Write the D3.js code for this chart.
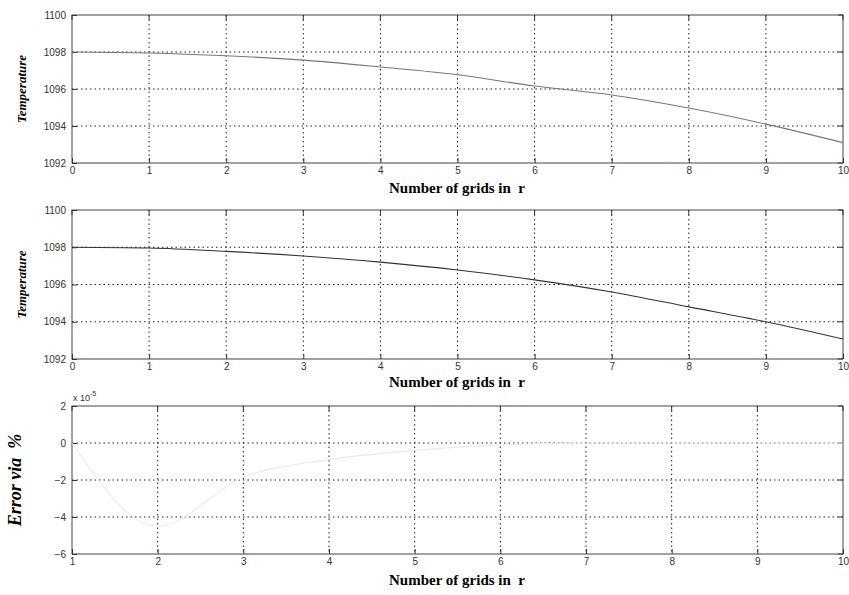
<!DOCTYPE html>
<html>
<head>
<meta charset="utf-8">
<script src="https://cdn.jsdelivr.net/npm/d3@7"></script>
<style>
  body { margin: 0; background: #fff; }
  svg { display: block; }
  text { white-space: pre; }
</style>
</head>
<body>
<div id="chart"></div>
<script>
// grid index along r
const gridsTop = [0, 1, 2, 3, 4, 5, 6, 7, 8, 9, 10];
// temperature, first method
const tempTop = [1098.0, 1097.95, 1097.8, 1097.56, 1097.19, 1096.77, 1096.16, 1095.68, 1094.97, 1094.1, 1093.1];
// temperature, second method
const tempMid = [1098.0, 1097.96, 1097.78, 1097.53, 1097.2, 1096.78, 1096.25, 1095.6, 1094.8, 1094.0, 1093.07];
// error (x 1e-5 %)
const gridsErr = [1, 2, 3, 4, 5, 6, 7, 8, 9, 10];
const errVals = [0, -4.5, -1.85, -0.9, -0.4, -0.1, 0, 0, 0, 0];

const tempTicks = [1092, 1094, 1096, 1098, 1100];
const errTicks = [-6, -4, -2, 0, 2];

const W = 849, H = 595;
const left = 72, right = 843;

const svg = d3.select("#chart").append("svg")
    .attr("width", W).attr("height", H);

const panels = [
    { top: 15, bottom: 163, xd: [0, 10], xt: d3.range(0, 11), yd: [1092, 1100], yt: tempTicks,
      xs: gridsTop, ys: tempTop, stroke: "#777", ylab: "Temperature", ylabSize: 13, ylabX: 26, xlabY: 193 },
    { top: 210, bottom: 359, xd: [0, 10], xt: d3.range(0, 11), yd: [1092, 1100], yt: tempTicks,
      xs: gridsTop, ys: tempMid, stroke: "#333", ylab: "Temperature", ylabSize: 13, ylabX: 26, xlabY: 387 },
    { top: 406, bottom: 554, xd: [1, 10], xt: d3.range(1, 11), yd: [-6, 2], yt: errTicks,
      xs: gridsErr, ys: errVals, stroke: "#eaeaea", ylab: "Error via  %", ylabSize: 18, ylabX: 21, xlabY: 585 }
];

panels.forEach(p => {
    const x = d3.scaleLinear().domain(p.xd).range([left, right]);
    const y = d3.scaleLinear().domain(p.yd).range([p.bottom, p.top]);
    const g = svg.append("g");

    // grid
    g.selectAll(".vg").data(p.xt.slice(1, -1)).enter().append("line")
        .attr("x1", d => x(d)).attr("x2", d => x(d))
        .attr("y1", p.top).attr("y2", p.bottom)
        .attr("stroke", "#222").attr("stroke-width", 1)
        .attr("stroke-dasharray", "1.5,3");
    g.selectAll(".hg").data(p.yt.slice(1, -1)).enter().append("line")
        .attr("x1", left).attr("x2", right)
        .attr("y1", d => y(d)).attr("y2", d => y(d))
        .attr("stroke", "#222").attr("stroke-width", 1)
        .attr("stroke-dasharray", "1.5,3");

    // box
    g.append("rect")
        .attr("x", left).attr("y", p.top)
        .attr("width", right - left).attr("height", p.bottom - p.top)
        .attr("fill", "none").attr("stroke", "#444").attr("stroke-width", 1);

    // axes ticks and labels
    const xAxis = d3.axisBottom(x).tickValues(p.xt).tickFormat(d3.format("d"))
        .tickSizeInner(-5).tickSizeOuter(0).tickPadding(9);
    const ga = g.append("g").attr("transform", `translate(0,${p.bottom})`).call(xAxis);
    ga.selectAll(".tick text").attr("dy", "0.55em").attr("y", 5);
    const yAxis = d3.axisLeft(y).tickValues(p.yt).tickFormat(d3.format("d"))
        .tickSizeInner(-5).tickSizeOuter(0).tickPadding(6);
    const gb = g.append("g").attr("transform", `translate(${left},0)`).call(yAxis);
    [ga, gb].forEach(a => {
        a.select(".domain").remove();
        a.selectAll(".tick line").attr("stroke", "#333");
        a.selectAll("text")
            .attr("font-family", "'Liberation Sans', Arial, sans-serif")
            .attr("font-size", 10).attr("fill", "#333");
    });
    // top/right ticks
    g.selectAll(".tt").data(p.xt).enter().append("line")
        .attr("x1", d => x(d)).attr("x2", d => x(d))
        .attr("y1", p.top).attr("y2", p.top + 5).attr("stroke", "#333");
    g.selectAll(".rt").data(p.yt).enter().append("line")
        .attr("x1", right - 5).attr("x2", right)
        .attr("y1", d => y(d)).attr("y2", d => y(d)).attr("stroke", "#333");

    // data line
    const line = d3.line().x(d => x(d[0])).y(d => y(d[1]));
    g.append("path")
        .datum(p.xs.map((v, i) => [v, p.ys[i]]))
        .attr("d", line.curve(d3.curveMonotoneX))
        .attr("fill", "none").attr("stroke", p.stroke).attr("stroke-width", 1.1);

    // labels
    g.append("text")
        .attr("x", 457).attr("y", p.xlabY)
        .attr("text-anchor", "middle")
        .attr("font-family", "'Liberation Serif', 'Times New Roman', serif")
        .attr("font-weight", "bold").attr("font-size", 15)
        .text("Number of grids in  r");
    g.append("text")
        .attr("transform", `translate(${p.ylabX},${(p.top + p.bottom) / 2}) rotate(-90)`)
        .attr("text-anchor", "middle")
        .attr("font-family", "'Liberation Serif', 'Times New Roman', serif")
        .attr("font-style", "italic").attr("font-weight", "bold")
        .attr("font-size", p.ylabSize)
        .text(p.ylab);
});

// exponent label for error panel
const ex = svg.append("text")
    .attr("x", 73).attr("y", 401)
    .attr("font-family", "'Liberation Sans', Arial, sans-serif")
    .attr("font-size", 9).attr("fill", "#333");
ex.append("tspan").text("x 10");
ex.append("tspan").attr("dy", -5).attr("font-size", 7).text("-5");
</script>
</body>
</html>
